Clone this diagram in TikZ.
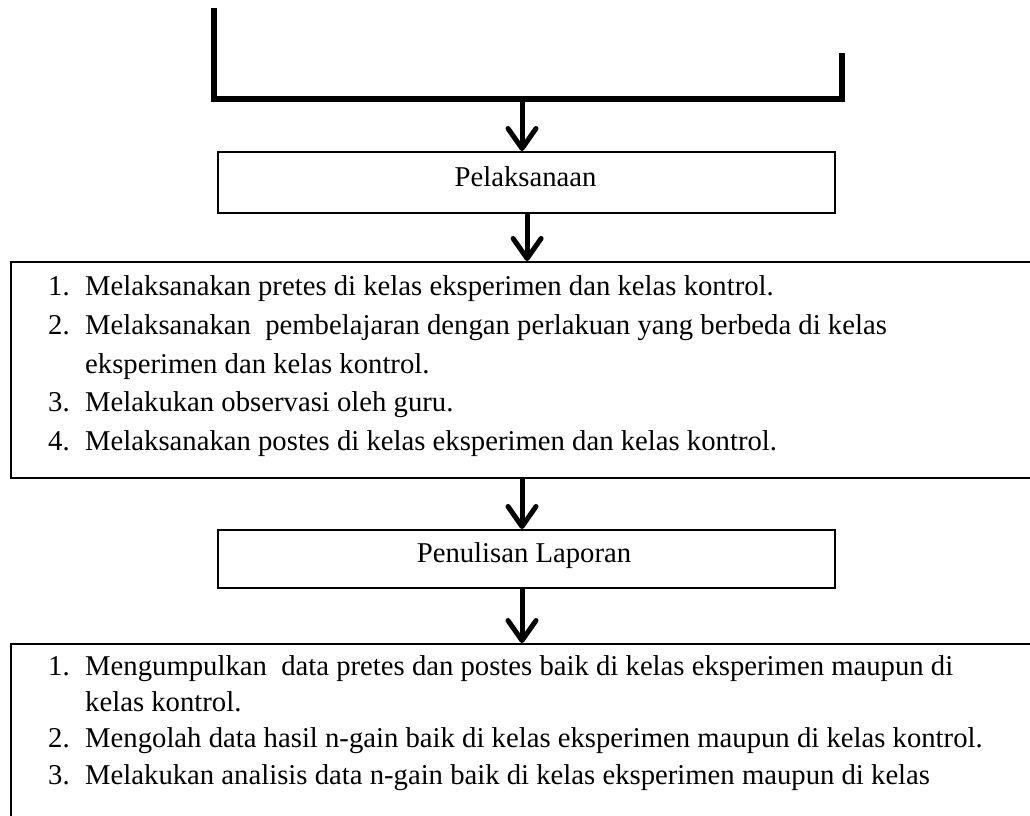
\documentclass[tikz,border=0pt]{standalone}
\usepackage{fontspec}
\setmainfont{Liberation Serif}
\usetikzlibrary{arrows.meta}
\tikzset{
  kotak/.style={draw,line width=2.2pt,inner sep=0pt,anchor=north west},
  panah/.style={line width=5pt,-{Straight Barb[length=20pt,width=28pt,round]}},
  baris/.style={anchor=base west,inner sep=0pt},
}
\begin{document}
\begin{tikzpicture}[x=1pt,y=-1pt,font=\fontsize{28.7}{38}\selectfont]
\clip (0,0) rectangle (1030,815);
\pgfmathsetmacro{\nx}{48}
\pgfmathsetmacro{\tx}{85}
% bracket
\draw[line width=6pt](214,8)--(214,99)--(842,99)--(842,53);
\coordinate (gabung) at (522,99);
% boxes
\node[kotak,minimum width=617pt,minimum height=61pt] (pel) at (217,151) {};
\node[baris,anchor=base] at (525.5,186) {Pelaksanaan};
\node[kotak,minimum width=1040pt,minimum height=216pt] (plk) at (10,261) {};
\node[kotak,minimum width=617pt,minimum height=58pt] (lap) at (217,529) {};
\node[baris,anchor=base] at (524,562) {Penulisan Laporan};
\node[kotak,minimum width=1040pt,minimum height=200pt] (lst) at (10,643) {};
% list pelaksanaan
\node[baris] at (\nx,295) {1.};
\node[baris] at (\tx,295) {Melaksanakan pretes di kelas eksperimen dan kelas kontrol.};
\node[baris] at (\nx,334) {2.};
\node[baris] at (\tx,334) {Melaksanakan\ \ pembelajaran dengan perlakuan yang berbeda di kelas};
\node[baris] at (\tx,373) {eksperimen dan kelas kontrol.};
\node[baris] at (\nx,411) {3.};
\node[baris] at (\tx,411) {Melakukan observasi oleh guru.};
\node[baris] at (\nx,450) {4.};
\node[baris] at (\tx,450) {Melaksanakan postes di kelas eksperimen dan kelas kontrol.};
% list laporan
\node[baris] at (\nx,675) {1.};
\node[baris] at (\tx,675) {Mengumpulkan\ \ data pretes dan postes baik di kelas eksperimen maupun di};
\node[baris] at (\tx,711) {kelas kontrol.};
\node[baris] at (\nx,747) {2.};
\node[baris] at (\tx,747) {Mengolah data hasil n-gain baik di kelas eksperimen maupun di kelas kontrol.};
\node[baris] at (\nx,784) {3.};
\node[baris] at (\tx,784) {Melakukan analisis data n-gain baik di kelas eksperimen maupun di kelas};
% arrows
\draw[panah](gabung)--(gabung |- pel.north);
\draw[panah]([xshift=0.5pt]pel.south)--([xshift=0.5pt]pel.south |- plk.north);
\draw[panah](plk.south -| gabung)--(lap.north -| gabung);
\draw[panah](lap.south -| gabung)--(lst.north -| gabung);
\end{tikzpicture}
\end{document}
